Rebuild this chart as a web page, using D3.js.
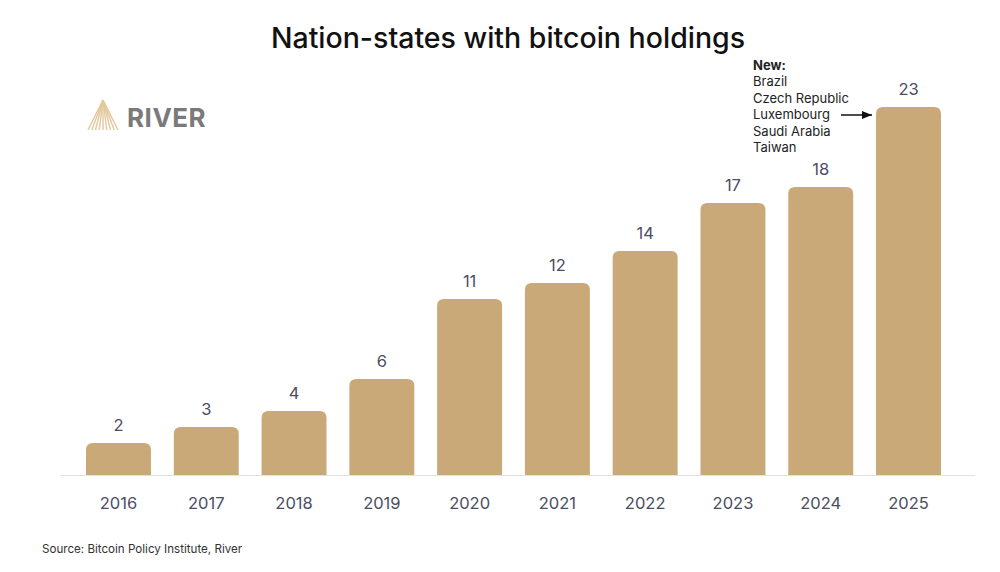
<!DOCTYPE html>
<html>
<head>
<meta charset="utf-8">
<script src="https://cdn.jsdelivr.net/npm/d3@7"></script>
<style>
  body { margin: 0; background: #fff; }
  svg { font-family: Inter, "Noto Sans", sans-serif; }
</style>
</head>
<body>
<div id="chart"></div>
<script>
// Data
const years = ["2016", "2017", "2018", "2019", "2020", "2021", "2022", "2023", "2024", "2025"];
const counts = [2, 3, 4, 6, 11, 12, 14, 17, 18, 23];
const newCountries = ["Brazil", "Czech Republic", "Luxembourg", "Saudi Arabia", "Taiwan"];

const data = years.map((y, i) => ({ year: y, value: counts[i] }));

const width = 1000, height = 572;
const baseline = 475;

const svg = d3.select("#chart").append("svg")
    .attr("width", width)
    .attr("height", height);

// Scales
const x = d3.scaleBand()
    .domain(years)
    .range([74.6, 952.4])
    .paddingInner(0.26)
    .paddingOuter(0.13);

const y = d3.scaleLinear()
    .domain([0, 23])
    .range([baseline, 107]);

// Title
svg.append("text")
    .attr("x", 508)
    .attr("y", 48)
    .attr("text-anchor", "middle")
    .attr("font-size", 28.5)
    .attr("font-weight", 500)
    .attr("fill", "#111")
    .text("Nation-states with bitcoin holdings");

// River logo
const logo = svg.append("g").attr("transform", "translate(88,100)");
d3.range(0, 9).forEach(i => {
    logo.append("line")
        .attr("x1", 15).attr("y1", 0)
        .attr("x2", i * 30 / 8).attr("y2", 30)
        .attr("stroke", "#e2c89c")
        .attr("stroke-width", 1.4);
});
svg.append("text")
    .attr("x", 127)
    .attr("y", 127)
    .attr("font-size", 26)
    .attr("font-weight", 700)
    .attr("fill", "#7a7a7a")
    .attr("letter-spacing", 0.5)
    .text("RIVER");

// Baseline
svg.append("line")
    .attr("x1", 60).attr("x2", 975)
    .attr("y1", baseline + 0.5).attr("y2", baseline + 0.5)
    .attr("stroke", "#e2e2e6")
    .attr("stroke-width", 1);

// Bars with rounded top corners
const r = 7;
function barPath(d) {
    const x0 = x(d.year), w = x.bandwidth();
    const y0 = y(d.value), y1 = baseline;
    return `M${x0},${y1} L${x0},${y0 + r} Q${x0},${y0} ${x0 + r},${y0} ` +
           `L${x0 + w - r},${y0} Q${x0 + w},${y0} ${x0 + w},${y0 + r} L${x0 + w},${y1} Z`;
}

svg.selectAll("path.bar")
    .data(data)
    .enter().append("path")
    .attr("class", "bar")
    .attr("d", barPath)
    .attr("fill", "#c9a977");

// Value labels
svg.selectAll("text.value")
    .data(data)
    .enter().append("text")
    .attr("class", "value")
    .attr("x", d => x(d.year) + x.bandwidth() / 2)
    .attr("y", d => y(d.value) - 12)
    .attr("text-anchor", "middle")
    .attr("font-size", 16.5)
    .attr("fill", "#4b4d63")
    .text(d => d.value);

// Year axis labels
const xAxis = svg.append("g")
    .attr("transform", `translate(0,${baseline})`)
    .call(d3.axisBottom(x).tickSize(0).tickPadding(22));
xAxis.select(".domain").remove();
xAxis.selectAll("text")
    .attr("font-family", "Inter, 'Noto Sans', sans-serif")
    .attr("font-size", 16.5)
    .attr("fill", "#4b4d63");

// Annotation
const note = svg.append("g").attr("font-size", 13).attr("fill", "#222");
note.append("text")
    .attr("x", 753).attr("y", 70)
    .attr("font-weight", 700)
    .text("New:");
note.selectAll("text.country")
    .data(newCountries)
    .enter().append("text")
    .attr("class", "country")
    .attr("x", 753)
    .attr("y", (d, i) => 86 + i * 16.5)
    .text(d => d);

// Arrow to 2025 bar
svg.append("defs").append("marker")
    .attr("id", "arrow")
    .attr("viewBox", "0 0 10 10")
    .attr("refX", 10).attr("refY", 5)
    .attr("markerWidth", 7).attr("markerHeight", 7)
    .attr("orient", "auto")
    .append("path")
    .attr("d", "M0,1 L10,5 L0,9 Z")
    .attr("fill", "#111");
svg.append("line")
    .attr("x1", 841).attr("x2", x("2025") - 4)
    .attr("y1", 115).attr("y2", 115)
    .attr("stroke", "#111")
    .attr("stroke-width", 1.5)
    .attr("marker-end", "url(#arrow)");

// Source
svg.append("text")
    .attr("x", 42)
    .attr("y", 553)
    .attr("font-size", 11.6)
    .attr("fill", "#333")
    .text("Source: Bitcoin Policy Institute, River");
</script>
</body>
</html>
